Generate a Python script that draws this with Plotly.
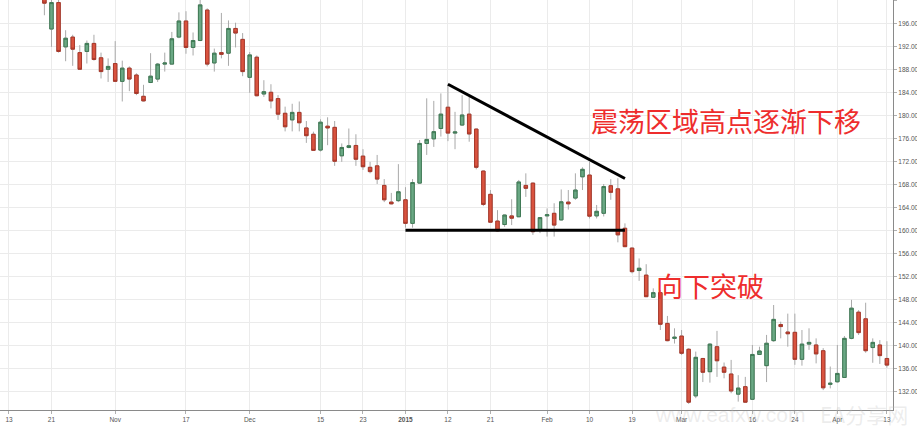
import pandas as pd
import plotly.graph_objects as go

# ---- trading calendar (US market holidays removed) ----
holidays = ["2014-11-27", "2014-12-25", "2015-01-01", "2015-01-19", "2015-02-16", "2015-04-03"]
calendar = pd.bdate_range("2014-10-13", "2015-04-13", freq="C", holidays=holidays)
cal_index = {d.strftime("%Y-%m-%d"): i for i, d in enumerate(calendar)}

# ---- OHLC data (first visible candle on 2014-10-20) ----
opens = [201.5, 195.0, 199.6, 191.9, 193.6, 190.9, 191.1, 192.5, 190.0, 188.0,
         189.0, 185.9, 188.2, 187.0, 183.3, 185.7, 186.3, 188.9, 188.9, 193.6,
         196.4, 191.8, 193.0, 198.3, 189.1, 190.9, 190.8, 195.1, 193.2, 186.6,
         190.1, 183.7, 184.0, 182.9, 180.35, 179.2, 180.5, 177.8, 176.7, 173.95,
         178.1, 177.9, 172.95, 174.4, 174.75, 172.9, 170.95, 171.2, 167.8, 164.9,
         165.15, 165.3, 161.2, 168.2, 175.1, 175.9, 177.7, 181.4, 176.9, 178.3,
         180.2, 177.6, 170.3, 166.25, 161.6, 161.0, 162.5, 162.35, 167.8, 168.2,
         160.05, 162.5, 162.95, 161.8, 164.9, 165.6, 169.3, 169.6, 162.5, 162.95,
         167.75, 167.2, 160.35, 156.9, 153.0, 152.2, 148.35, 149.15, 143.8, 141.2,
         141.6, 139.3, 131.2, 137.7, 135.4, 139.75, 136.2, 135.0, 131.5, 132.8,
         130.6, 138.4, 136.45, 140.8, 143.6, 142.3, 142.25, 137.55, 140.2, 140.05,
         139.05, 133.2, 133.65, 134.4, 141.2, 145.75, 144.6, 139.6, 140.05, 137.7]
highs = [203.0, 200.2, 200.5, 194.8, 194.0, 192.2, 193.0, 194.0, 190.9, 189.9,
         192.9, 189.5, 188.5, 187.3, 185.3, 190.8, 189.1, 190.9, 194.5, 197.9,
         198.1, 194.4, 200.8, 198.6, 191.6, 197.8, 196.5, 196.1, 194.3, 191.0,
         190.4, 186.1, 185.4, 183.5, 181.5, 182.0, 182.4, 179.0, 177.15, 179.3,
         179.65, 179.0, 175.1, 177.7, 176.7, 174.1, 171.9, 173.1, 168.9, 166.5,
         171.5, 167.5, 168.9, 175.7, 182.95, 182.5, 183.8, 185.3, 180.6, 183.5,
         183.2, 177.7, 170.4, 167.0, 163.5, 162.7, 165.4, 168.75, 169.9, 168.3,
         162.2, 163.8, 164.7, 167.1, 167.0, 169.9, 170.95, 171.9, 164.4, 168.05,
         168.9, 169.05, 161.2, 157.0, 155.1, 154.1, 149.9, 149.6, 145.1, 142.95,
         142.65, 139.5, 138.9, 137.8, 140.35, 142.5, 137.0, 137.45, 134.8, 134.5,
         140.05, 139.75, 141.8, 147.0, 144.1, 145.5, 145.5, 142.65, 142.95, 141.2,
         139.5, 136.3, 140.05, 141.6, 147.9, 146.1, 147.4, 141.2, 140.9, 140.7]
lows = [197.4, 191.9, 190.9, 189.4, 188.6, 187.9, 189.0, 189.5, 186.4, 185.8,
        185.8, 182.4, 184.2, 183.5, 182.4, 185.6, 185.8, 187.6, 188.9, 193.4,
        190.7, 190.4, 192.9, 188.5, 187.6, 189.9, 188.6, 191.8, 186.8, 183.9,
        183.3, 183.2, 181.2, 179.2, 177.2, 177.2, 177.2, 175.2, 173.8, 173.7,
        174.8, 171.2, 171.9, 174.25, 171.2, 170.5, 169.9, 168.05, 164.9, 164.5,
        164.9, 160.45, 160.45, 168.1, 173.1, 174.5, 176.3, 175.5, 174.1, 178.2,
        175.4, 170.6, 164.2, 161.3, 159.8, 160.6, 160.9, 162.3, 165.8, 159.2,
        159.5, 158.9, 158.9, 161.7, 163.6, 165.3, 167.0, 162.05, 162.05, 162.4,
        165.3, 157.9, 157.1, 152.5, 151.2, 148.4, 148.3, 142.65, 140.7, 140.3,
        138.3, 129.8, 130.8, 133.6, 133.5, 134.5, 134.25, 131.65, 130.2, 130.0,
        130.5, 138.3, 133.6, 140.6, 141.2, 139.75, 136.6, 136.45, 139.2, 136.85,
        132.2, 132.5, 133.5, 134.3, 141.05, 141.8, 138.7, 136.95, 136.75, 136.1]
closes = [199.5, 199.6, 191.1, 193.4, 191.5, 188.0, 192.5, 189.7, 187.6, 188.5,
          185.9, 188.2, 186.3, 183.8, 182.5, 186.8, 188.9, 189.1, 193.3, 196.4,
          191.8, 193.0, 199.2, 188.9, 190.8, 190.6, 195.1, 194.3, 187.6, 190.5,
          183.4, 184.1, 182.5, 180.2, 178.0, 180.5, 178.7, 176.45, 173.9, 178.8,
          177.8, 172.0, 174.4, 174.7, 172.35, 171.05, 170.2, 168.9, 165.3, 164.6,
          166.7, 161.2, 168.3, 175.1, 175.8, 177.15, 180.2, 176.9, 177.1, 180.05,
          176.75, 170.95, 164.5, 161.4, 159.9, 162.65, 162.1, 168.4, 167.3, 159.75,
          162.2, 162.7, 160.9, 164.95, 164.6, 167.0, 170.6, 162.45, 163.3, 167.6,
          166.6, 159.2, 157.15, 152.8, 153.4, 148.45, 149.15, 143.65, 140.8, 141.4,
          138.6, 130.1, 137.9, 135.3, 140.2, 137.3, 135.3, 132.05, 132.55, 130.1,
          138.4, 139.0, 140.35, 144.5, 143.25, 142.0, 137.55, 140.2, 140.5, 138.5,
          132.6, 133.4, 135.1, 141.2, 146.45, 142.2, 139.05, 140.5, 138.2, 136.55]
candle_dates = [d.strftime("%Y-%m-%d") for d in calendar[5:5 + len(opens)]]

# ---- tick labels ----
tick_dates = ["2014-10-13", "2014-10-21", "2014-11-03", "2014-11-17", "2014-12-01",
              "2014-12-15", "2014-12-23", "2015-01-02", "2015-01-12", "2015-01-21",
              "2015-02-02", "2015-02-10", "2015-02-19", "2015-03-02", "2015-03-16",
              "2015-03-24", "2015-04-01", "2015-04-13"]
tick_labels = ["13", "21", "Nov", "17", "Dec", "15", "23", "<b>2015</b>", "12", "21",
               "Feb", "10", "19", "Mar", "16", "24", "Apr", "13"]

# ---- hand-drawn pattern lines ----
trend_dates = ["2015-01-12", "2015-02-18"]
trend_prices = [185.4, 169.0]
support_dates = ["2015-01-02", "2015-02-18"]
support_prices = [160.0, 160.0]

xs = [cal_index[d] for d in candle_dates]
body_hi = [max(o, c) for o, c in zip(opens, closes)]
body_lo = [min(o, c) for o, c in zip(opens, closes)]

GREEN_FILL = "#6aa884"
GREEN_LINE = "#3f7a55"
RED_FILL = "#d9533f"
RED_LINE = "#a8382a"

fig = go.Figure()
# wicks (gray)
fig.add_trace(go.Candlestick(
    x=xs, open=opens, high=highs, low=lows, close=closes,
    increasing=dict(line=dict(color="#a9a9a9", width=1), fillcolor=GREEN_FILL),
    decreasing=dict(line=dict(color="#a9a9a9", width=1), fillcolor=RED_FILL),
    whiskerwidth=0, hoverinfo="skip"))
# bodies with coloured outline
fig.add_trace(go.Candlestick(
    x=xs, open=opens, high=body_hi, low=body_lo, close=closes,
    increasing=dict(line=dict(color=GREEN_LINE, width=1), fillcolor=GREEN_FILL),
    decreasing=dict(line=dict(color=RED_LINE, width=1), fillcolor=RED_FILL),
    whiskerwidth=0))

fig.add_trace(go.Scatter(x=[cal_index[d] for d in trend_dates], y=trend_prices,
                         mode="lines", line=dict(color="black", width=3), hoverinfo="skip"))
fig.add_trace(go.Scatter(x=[cal_index[d] for d in support_dates], y=support_prices,
                         mode="lines", line=dict(color="black", width=3), hoverinfo="skip"))

tick_font = dict(family="Liberation Sans, Arial, sans-serif", size=6.5, color="#555555")

fig.update_layout(
    width=917, height=427,
    margin=dict(l=0, r=24, t=0, b=17),
    paper_bgcolor="white", plot_bgcolor="white",
    showlegend=False,
    xaxis=dict(
        range=[-1.27, 124.86], rangeslider=dict(visible=False),
        tickmode="array", tickvals=[cal_index[d] for d in tick_dates], ticktext=tick_labels,
        showgrid=True, gridcolor="#ebebeb", gridwidth=1, zeroline=False,
        showline=True, linecolor="#8a8a8a", linewidth=1,
        ticks="outside", ticklen=3, tickcolor="#b0b0b0",
        tickfont=tick_font, automargin=False),
    yaxis=dict(
        side="right", range=[128.74, 200.05], tick0=0, dtick=4, tickformat=".2f",
        showgrid=True, gridcolor="#ebebeb", gridwidth=1, zeroline=False,
        showline=True, linecolor="#8a8a8a", linewidth=1,
        ticks="outside", ticklen=3, tickcolor="#b0b0b0",
        tickfont=tick_font, automargin=False),
)

cjk = "Noto Sans CJK SC"
fig.add_annotation(text="震荡区域高点逐渐下移", xref="paper", yref="paper",
                   x=726 / 893, y=1 - 120 / 410, xanchor="center", yanchor="middle",
                   showarrow=False, font=dict(family=cjk, size=27, color="#ee2d2d"))
fig.add_annotation(text="向下突破", xref="paper", yref="paper",
                   x=710 / 893, y=1 - 285 / 410, xanchor="center", yanchor="middle",
                   showarrow=False, font=dict(family=cjk, size=27, color="#ee2d2d"))

# faint translucent watermark (tick labels remain visible through it)
wm_color = "rgba(190,190,190,0.28)"
fig.add_annotation(text="www.eafxw.com", xref="paper", yref="paper",
                   x=730 / 893, y=-4 / 410, xanchor="center", yanchor="middle",
                   showarrow=False,
                   font=dict(family="Liberation Sans, Arial", size=21, color=wm_color))
fig.add_annotation(text="EA分享网", xref="paper", yref="paper",
                   x=864 / 893, y=-4 / 410, xanchor="center", yanchor="middle",
                   showarrow=False,
                   font=dict(family=cjk, size=21, color=wm_color))

fig.write_html("out.html", config={"displayModeBar": False},
               post_script="document.body.style.margin='0';document.body.style.overflow='hidden';")
